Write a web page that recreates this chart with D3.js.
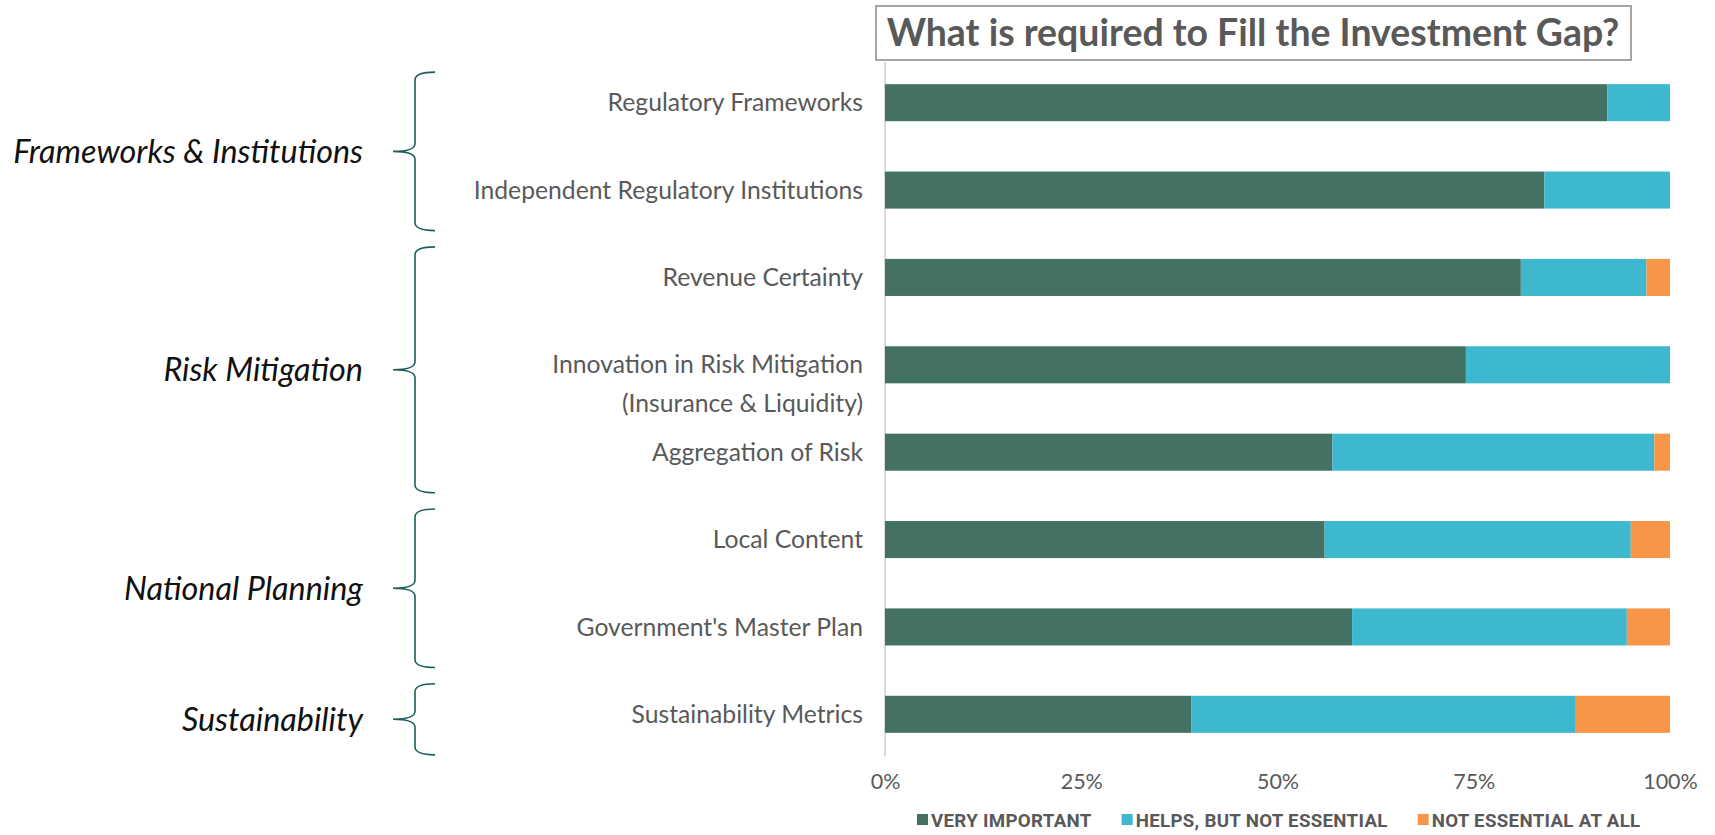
<!DOCTYPE html>
<html>
<head>
<meta charset="utf-8">
<script src="https://cdn.jsdelivr.net/npm/d3@7"></script>
<style>
  html, body { margin: 0; padding: 0; background: #ffffff; }
  svg { display: block; }
</style>
</head>
<body>
<svg id="chart" width="1715" height="835"></svg>
<script>
// Survey responses, share of respondents (%)
const categories = [
  "Regulatory Frameworks",
  "Independent Regulatory Institutions",
  "Revenue Certainty",
  "Innovation in Risk Mitigation|(Insurance & Liquidity)",
  "Aggregation of Risk",
  "Local Content",
  "Government's Master Plan",
  "Sustainability Metrics"
];
const seriesNames = ["VERY IMPORTANT", "HELPS, BUT NOT ESSENTIAL", "NOT ESSENTIAL AT ALL"];
const veryImportant = [92, 84, 81, 74, 57, 56, 59.5, 39];
const helpsNotEssential = [8, 16, 16, 26, 41, 39, 35, 49];
const notEssential = [0, 0, 3, 0, 2, 5, 5.5, 12];
const tickValues = [0, 25, 50, 75, 100];

// Thematic groups shown with braces on the left
const groupNames = ["Frameworks & Institutions", "Risk Mitigation", "National Planning", "Sustainability"];
const groupFirst = [0, 2, 5, 7];
const groupLast = [1, 4, 6, 7];

const title = "What is required to Fill the Investment Gap?";
const colors = ["#437163", "#3db8ce", "#f79646"];
const textGray = "#595959";
const uiFont = "'Lato', 'Noto Sans', sans-serif";

const svg = d3.select("#chart");

const rows = categories.map((c, i) => ({
  cat: c,
  [seriesNames[0]]: veryImportant[i],
  [seriesNames[1]]: helpsNotEssential[i],
  [seriesNames[2]]: notEssential[i]
}));
const stacked = d3.stack().keys(seriesNames)(rows);

const x = d3.scaleLinear().domain([0, 100]).range([885, 1670]);
const y = d3.scaleBand().domain(categories).range([59, 758])
  .paddingInner(0.576).paddingOuter(0.288);

// scale a text's font size so it spans the given width
function fitFont(sel, target, base) {
  const w = sel.node().getComputedTextLength();
  return base * target / w;
}

// value axis baseline
svg.append("line")
  .attr("x1", x(0)).attr("x2", x(0))
  .attr("y1", 62).attr("y2", 756)
  .attr("stroke", "#d9d9d9").attr("stroke-width", 2);

// stacked bars
svg.append("g").selectAll("g")
  .data(stacked)
  .join("g")
  .attr("fill", (d, i) => colors[i])
  .selectAll("rect")
  .data(d => d)
  .join("rect")
  .attr("x", d => x(d[0]))
  .attr("y", d => y(d.data.cat))
  .attr("width", d => x(d[1]) - x(d[0]))
  .attr("height", y.bandwidth());

// x axis tick labels
const xAxis = d3.axisBottom(x).tickValues(tickValues).tickSize(0)
  .tickFormat(d => d + "%");
const gx = svg.append("g").attr("transform", "translate(0,771)").call(xAxis);
gx.select(".domain").remove();
gx.selectAll("text")
  .attr("font-family", uiFont).attr("font-size", 21.5)
  .attr("fill", textGray).attr("dy", "0.71em");

// category labels
const labelSize = (() => {
  const t = svg.append("text").attr("font-family", uiFont).attr("font-size", 20)
    .text("Independent Regulatory Institutions");
  const s = fitFont(t, 356 * 1.09375, 20);
  t.remove();
  return s;
})();
const catLabels = svg.append("g").selectAll("text")
  .data(categories)
  .join("text")
  .attr("x", 863)
  .attr("y", d => y(d) + y.bandwidth() / 2)
  .attr("text-anchor", "end")
  .attr("font-family", uiFont)
  .attr("font-size", labelSize)
  .attr("fill", textGray);
catLabels.each(function(d) {
  const lines = d.split("|");
  const t = d3.select(this);
  lines.forEach((ln, k) => {
    t.append("tspan").attr("x", 863)
      .attr("dy", k === 0 ? "0.35em" : "1.55em")
      .text(ln);
  });
});

// group braces and labels
const groupSize = (() => {
  const t = svg.append("text").attr("font-family", uiFont).attr("font-size", 26)
    .attr("font-style", "italic").text(groupNames[0]);
  const s = fitFont(t, 350, 26);
  t.remove();
  return s;
})();
const braceX = { tip: 393, spine: 415, end: 435 };
groupNames.forEach((name, i) => {
  const top = y(categories[groupFirst[i]]) - 12;
  const bottom = y(categories[groupLast[i]]) + y.bandwidth() + 22;
  const mid = (top + bottom) / 2;
  const r = 8;
  const p = d3.path();
  p.moveTo(braceX.end, top);
  p.quadraticCurveTo(braceX.spine, top, braceX.spine, top + r);
  p.lineTo(braceX.spine, mid - r);
  p.quadraticCurveTo(braceX.spine, mid, braceX.tip, mid);
  p.quadraticCurveTo(braceX.spine, mid, braceX.spine, mid + r);
  p.lineTo(braceX.spine, bottom - r);
  p.quadraticCurveTo(braceX.spine, bottom, braceX.end, bottom);
  svg.append("path").attr("d", p.toString())
    .attr("fill", "none").attr("stroke", "#1c5f5b").attr("stroke-width", 1.6);
  svg.append("text")
    .attr("x", 363).attr("y", mid).attr("dy", "0.35em")
    .attr("text-anchor", "end")
    .attr("font-family", uiFont).attr("font-style", "italic")
    .attr("font-size", groupSize).attr("fill", "#111111")
    .text(name);
});

// title in a framed box
svg.append("rect")
  .attr("x", 876).attr("y", 6).attr("width", 755).attr("height", 54)
  .attr("fill", "#ffffff").attr("stroke", "#a6a6a6").attr("stroke-width", 2);
const tt = svg.append("text")
  .attr("x", 1253).attr("y", 33).attr("dy", "0.35em")
  .attr("text-anchor", "middle")
  .attr("font-family", uiFont).attr("font-weight", "bold")
  .attr("font-size", 34).attr("fill", textGray)
  .text(title);
tt.attr("font-size", fitFont(tt, 733, 34));

// legend
const legendFont = "'Liberation Sans Narrow', 'Roboto', sans-serif";
const lg = svg.append("g");
const probe = lg.append("text").attr("font-family", legendFont).attr("font-weight", "bold")
  .attr("font-size", 17).text(seriesNames[1]);
const legendSize = fitFont(probe, 245, 17);
probe.remove();
let lx = 917;
seriesNames.forEach((name, i) => {
  lg.append("rect").attr("x", lx).attr("y", 814).attr("width", 11).attr("height", 11)
    .attr("fill", colors[i]);
  const t = lg.append("text")
    .attr("x", lx + 14).attr("y", 820).attr("dy", "0.35em")
    .attr("font-family", legendFont).attr("font-weight", "bold")
    .attr("font-size", legendSize).attr("fill", textGray)
    .attr("letter-spacing", 0.3)
    .text(name);
  lx += 14 + t.node().getComputedTextLength() + 30;
});
</script>
</body>
</html>
